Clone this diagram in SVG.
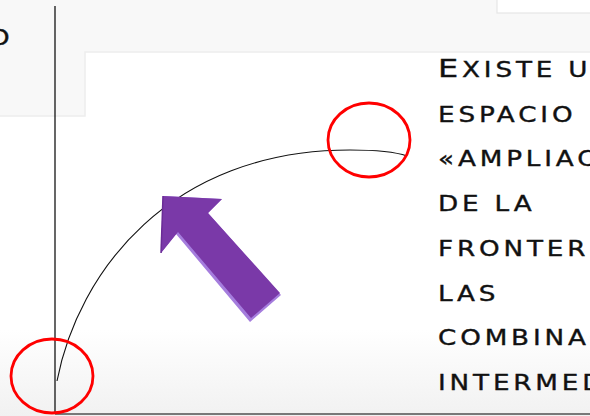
<svg xmlns="http://www.w3.org/2000/svg" width="590" height="416" viewBox="0 0 590 416">
<defs>
<linearGradient id="bottomFade" x1="0" y1="0" x2="0" y2="1">
<stop offset="0" stop-color="#ffffff"/>
<stop offset="1" stop-color="#f1f1f1"/>
</linearGradient>
<style>
.lbl{font-family:"DejaVu Sans","Liberation Sans",sans-serif;font-size:20.5px;text-transform:uppercase;letter-spacing:3px;fill:#111;stroke:#111;stroke-width:0.35}
.cap{font-size:25px}
.ring{fill:none;stroke:#ff0000;stroke-width:2.8}
.axis{stroke:#000;stroke-width:1.2;fill:none}
</style>
</defs>
<g id="background">
<rect x="0" y="0" width="590" height="416" fill="#ffffff"/>
<path d="M0,0H590V52H85V116H0Z" fill="#f8f8f8"/>
<path d="M590,52H85V116H0" fill="none" stroke="#ededed" stroke-width="1.5"/>
<rect x="497" y="-2" width="95" height="15" fill="#ffffff" stroke="#e6e6e6" stroke-width="1.2"/>
<rect x="0" y="330" width="590" height="86" fill="url(#bottomFade)"/>
</g>
<g id="axes">
<line class="axis" x1="55" y1="6" x2="55" y2="414"/>
<line class="axis" x1="55" y1="414" x2="590" y2="414"/>
</g>
<g id="connectors">
<path d="M57,381 C78,272 170,150 350,150 Q390,150 407,156" fill="none" stroke="#111" stroke-width="1.1"/>
</g>
<g id="markers">
<ellipse id="ring-top" class="ring" cx="369" cy="140" rx="41" ry="37"/>
<ellipse id="ring-origin" class="ring" cx="52" cy="376" rx="41" ry="37"/>
</g>
<g id="arrow">
<polygon points="163,196 222,199 208,213 281,295 250,322 176,234 161,253" fill="#a57ddd"/>
<polygon points="163,196 222,199 208,213 280,293 251,318 178,232 161,253" fill="#7a39a8"/>
<polyline points="161,253 163,196" fill="none" stroke="#6a2c96" stroke-width="1.5"/>
</g>
<g id="text">
<text class="lbl" transform="translate(-11,45) scale(1.28,1)">o</text>
<text class="lbl" transform="translate(438,77) scale(1.28,1)"><tspan class="cap">E</tspan>xiste u</text>
<text class="lbl" transform="translate(438,122) scale(1.28,1)">espacio d</text>
<text class="lbl" transform="translate(438,166) scale(1.28,1)">«ampliac</text>
<text class="lbl" transform="translate(438,211) scale(1.28,1)">de la</text>
<text class="lbl" transform="translate(438,256) scale(1.28,1)">fronter</text>
<text class="lbl" transform="translate(438,301) scale(1.28,1)">las</text>
<text class="lbl" transform="translate(438,345) scale(1.28,1)">combinac</text>
<text class="lbl" transform="translate(438,390) scale(1.28,1)">intermed</text>
</g>
</svg>
